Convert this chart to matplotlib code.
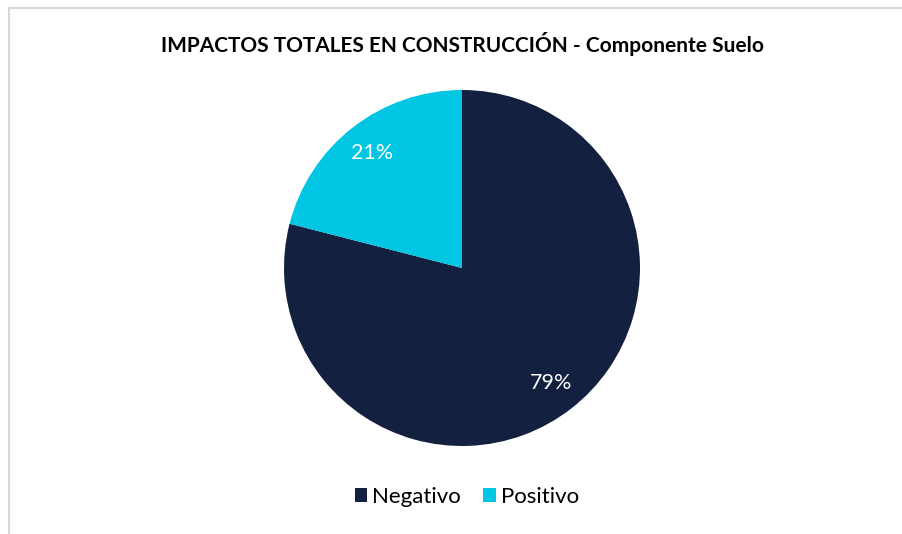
import matplotlib.pyplot as plt
from matplotlib.lines import Line2D

# share of soil-component impacts during construction
categories = ['Negativo', 'Positivo']
shares = [79, 21]
colors = ['#13203f', '#00c5e3']

plt.rcParams['font.family'] = ['Lato', 'DejaVu Sans']

fig = plt.figure(figsize=(9.03, 5.34), dpi=100)

# light frame around the chart area (only top and left edges show)
x0, y0 = 8.5 / 903, 1 - 7.5 / 534
fig.add_artist(Line2D([x0, 1], [y0, y0], transform=fig.transFigure,
                      color='#d9d9d9', linewidth=1.5))
fig.add_artist(Line2D([x0, x0], [0, y0], transform=fig.transFigure,
                      color='#d9d9d9', linewidth=1.5))

ax = fig.add_axes([284 / 903, 88 / 534, 356 / 903, 356 / 534])
wedges, texts, autotexts = ax.pie(
    shares, colors=colors, startangle=90, counterclock=False,
    autopct='%1.0f%%', pctdistance=0.82,
    wedgeprops={'linewidth': 0},
    textprops={'color': 'white', 'fontsize': 15.5})
ax.set_xlim(-1, 1)
ax.set_ylim(-1, 1)
ax.set_aspect('equal')

cx = 463 / 903
fig.text(cx, 1 - 44 / 534, 'IMPACTOS TOTALES EN CONSTRUCCIÓN - Componente Suelo',
         ha='center', va='center', fontsize=15, fontweight='bold', color='black')

fig.legend(wedges, categories, loc='center', bbox_to_anchor=(467 / 903, 1 - 497 / 534),
           ncol=2, frameon=False, fontsize=16, handlelength=0.55, handleheight=0.55,
           handletextpad=0.25, columnspacing=1.0)

fig.savefig('out.png', dpi=100)
